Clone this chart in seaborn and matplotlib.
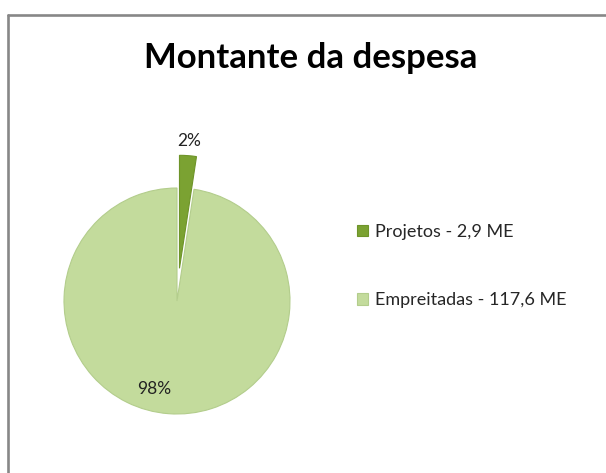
import numpy as np
import matplotlib
matplotlib.use("Agg")
import matplotlib.pyplot as plt
import seaborn as sns

# data
categories = ["Projetos - 2,9 ME", "Empreitadas - 117,6 ME"]
values = [2.9, 117.6]
pct_labels = ["2%", "98%"]
colors = ["#7BA232", "#C3DB9C"]

sns.set_style("white")
plt.rcParams["font.family"] = ["Lato", "DejaVu Sans"]

W, H = 606, 473
fig = plt.figure(figsize=(W / 100, H / 100), dpi=100)
ax = fig.add_axes([0, 0, 1, 1])

# pie centre and radius in pixels
cx, cy, r = 177, 301, 113

explode = [0.29, 0.0]
wedges, _ = ax.pie(values, colors=colors, startangle=90, counterclock=False,
                   explode=explode, radius=1.0,
                   wedgeprops=dict(edgecolor="#B3CD8C", linewidth=0.8))
wedges[0].set_edgecolor("#6E9429")

ax.set_xlim(-cx / r, (W - cx) / r)
ax.set_ylim(-(H - cy) / r, cy / r)
ax.set_aspect("equal")
ax.axis("off")

# percentage labels, placed along each wedge's mid angle
label_dist = [1.13, 0.80]
for w, txt, d, ex in zip(wedges, pct_labels, label_dist, explode):
    mid = np.deg2rad((w.theta1 + w.theta2) / 2)
    if txt == "98%":
        mid -= np.deg2rad(10)
    x = (ex + d) * np.cos(mid)
    y = (ex + d) * np.sin(mid)
    ax.text(x, y, txt, ha="center", va="center", fontsize=12.5, color="#222222")

fig.text(0.512, 1 - 58 / H, "Montante da despesa", ha="center", va="center",
         fontsize=25, fontweight="bold", color="black")

leg = fig.legend(wedges, categories, loc="center left",
                 bbox_to_anchor=(348 / W, 1 - 266 / H), frameon=False,
                 fontsize=13, handlelength=0.6, handleheight=0.6,
                 handletextpad=0.4, labelspacing=2.9, borderpad=0)

# chart frame (top and left edges visible)
fig.add_artist(plt.Line2D([7.5 / W, 1.0], [1 - 15 / H, 1 - 15 / H],
                          transform=fig.transFigure, color="#878787", lw=1.9))
fig.add_artist(plt.Line2D([7.5 / W, 7.5 / W], [0, 1 - 15 / H],
                          transform=fig.transFigure, color="#878787", lw=1.9))

fig.savefig("out.png", dpi=100)
